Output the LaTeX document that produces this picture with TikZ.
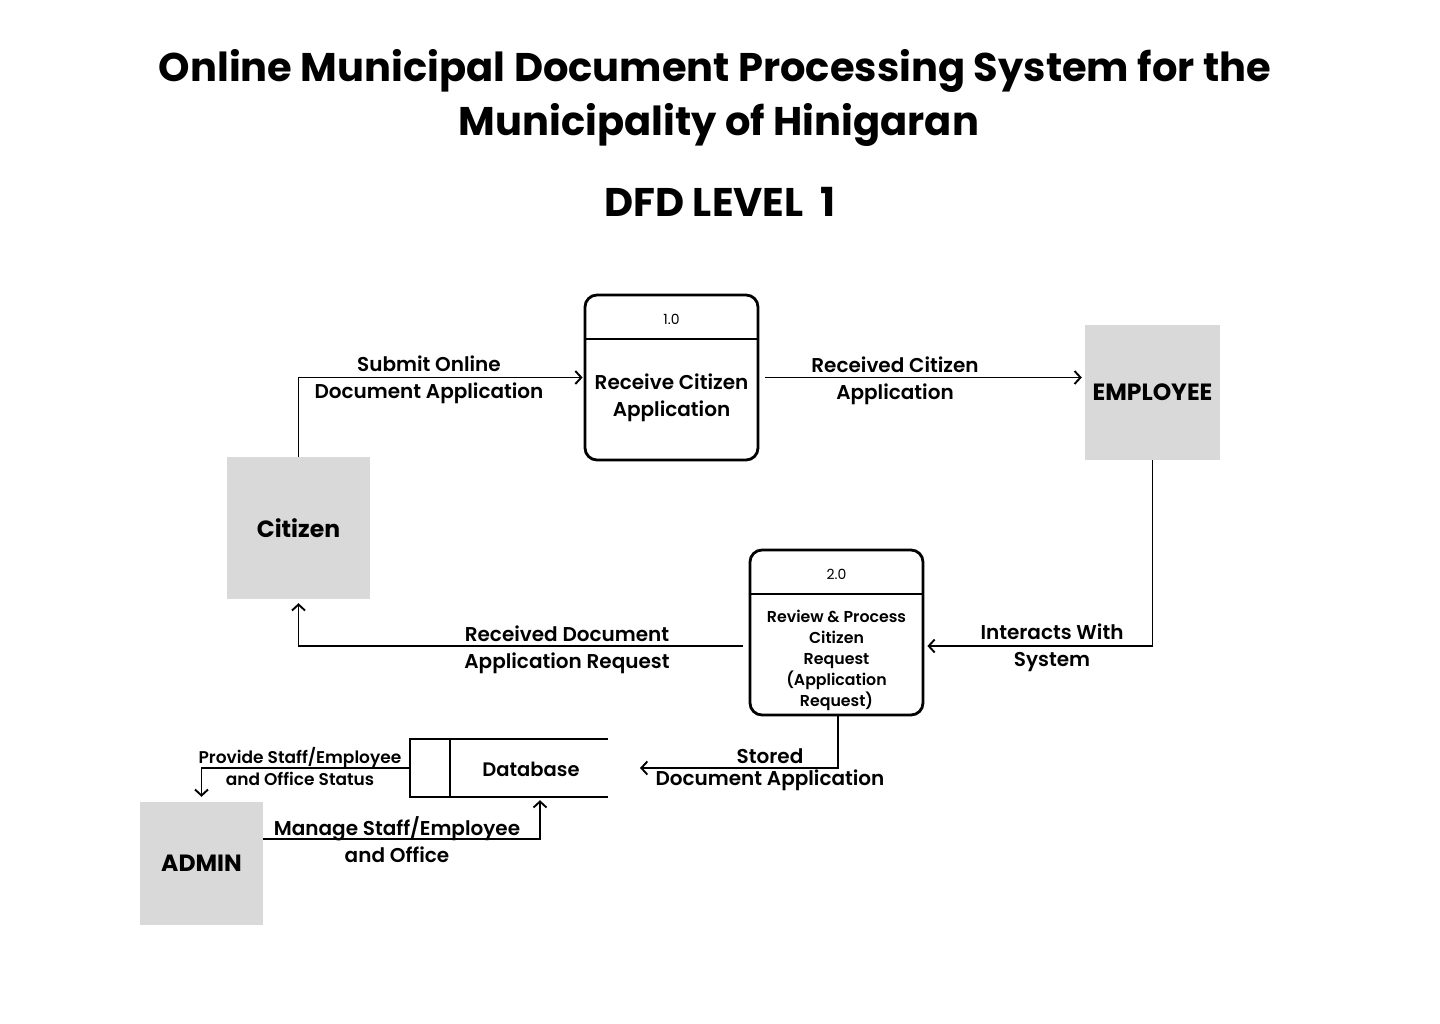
\documentclass[tikz,border=0pt]{standalone}
\usepackage{fontspec}
\setmainfont{Poppins}
\newfontfamily\psb{Poppins SemiBold}
\usetikzlibrary{arrows.meta,calc}
\definecolor{entgray}{HTML}{D9D9D9}
\tikzset{
  arr/.style={line width=1.9pt,-{Straight Barb[length=6pt,width=13pt,line width=1.9pt]}},
  ln/.style={line width=1.9pt},
  entity/.style={fill=entgray,draw=none,font=\bfseries\fontsize{23.5}{27}\selectfont,inner sep=0pt},
  proc/.style={draw,line width=2.8pt,rounded corners=12pt,inner sep=0pt},
  lbl/.style={font=\psb\fontsize{20}{27}\selectfont,align=center,inner sep=0pt},
  slbl/.style={font=\psb\fontsize{17}{22}\selectfont,align=center,inner sep=0pt},
  ptxt/.style={font=\psb\fontsize{15.8}{21}\selectfont,align=center,inner sep=0pt},
  pnum/.style={font=\fontsize{14}{16}\selectfont,inner sep=0pt},
  ttl/.style={font=\bfseries\fontsize{40}{54}\selectfont,inner sep=0pt}
}
\begin{document}
\begin{tikzpicture}[x=1pt,y=-1pt]
\useasboundingbox (0,0) rectangle (1440,1024);
% titles
\node[ttl] (title1) at (715,71) {Online Municipal Document Processing System for the};
\node[ttl] (title2) at (719,125) {Municipality of Hinigaran};
\node[ttl] (dfd) at (720,202) {DFD LEVEL\ \ 1};
% entities
\node[entity,minimum width=143pt,minimum height=142pt] (cit) at (298.5,528) {Citizen};
\node[entity,minimum width=135pt,minimum height=135pt] (emp) at (1152.5,392.5) {EMPLOYEE};
\node[entity,minimum width=123pt,minimum height=123pt] (adm) at (201.5,863.5) {ADMIN};
% process 1
\node[proc,minimum width=173pt,minimum height=165pt] (p1) at (671.5,377.5) {};
\draw[line width=2.8pt] (p1.west |- 0,339) -- (p1.east |- 0,339);
\node[pnum] (p1n) at (671.5,319) {1.0};
\node[lbl] (p1t) at (671.5,398) {Receive Citizen\\Application};
% process 2
\node[proc,minimum width=173pt,minimum height=165pt] (p2) at (836.5,632.5) {};
\draw[line width=2.8pt] (p2.west |- 0,594) -- (p2.east |- 0,594);
\node[pnum] (p2n) at (836.5,574) {2.0};
\node[ptxt] (p2t) at (836.5,660.5) {Review \& Process\\Citizen\\Request\\(Application\\Request)};
% database
\node[minimum width=198pt,minimum height=58pt,inner sep=0pt] (db) at (509,768) {};
\draw[ln] (db.north east) -- (db.north west) -- (db.south west) -- (db.south east);
\draw[ln] ([xshift=40pt]db.north west) -- ([xshift=40pt]db.south west);
\node[font=\psb\fontsize{19.5}{24}\selectfont,inner sep=0pt] (dbt) at (531,769) {Database};
\coordinate (dbin) at (640,768);
% connectors
\draw[arr] (cit.north) |- ([xshift=-1pt]p1.west);
\node[lbl] (l1) at (429,380) {Submit Online\\Document Application};
\draw[arr] ([xshift=6pt]p1.east) -- ([xshift=-3pt]p1.east -| emp.west);
\node[lbl] (l2) at (895,381) {Received Citizen\\Application};
\draw[arr] (emp.south) |- ([xshift=3pt]p2.east |- 0,646);
\node[lbl] (l3) at (1052,648) {Interacts With\\System};
\draw[arr] ([xshift=-6pt]p2.west |- 0,646) -| ([yshift=-4pt]cit.south);
\node[lbl] (l4) at (567,650) {Received Document\\Application Request};
\draw[arr] ([xshift=1.5pt]p2.south) |- (dbin);
\node[lbl,font=\psb\fontsize{20}{22}\selectfont] (l5) at (770,770) {Stored\\Document Application};
\draw[arr] (db.west) -| ([yshift=5pt]adm.north);
\node[slbl] (l6) at (300,767) {Provide Staff/Employee\\and Office Status};
\draw[arr] (adm.east |- 0,839) -| ([xshift=31pt,yshift=-3pt]db.south);
\node[lbl] (l7) at (397,840) {Manage Staff/Employee\\and Office};
\end{tikzpicture}
\end{document}
